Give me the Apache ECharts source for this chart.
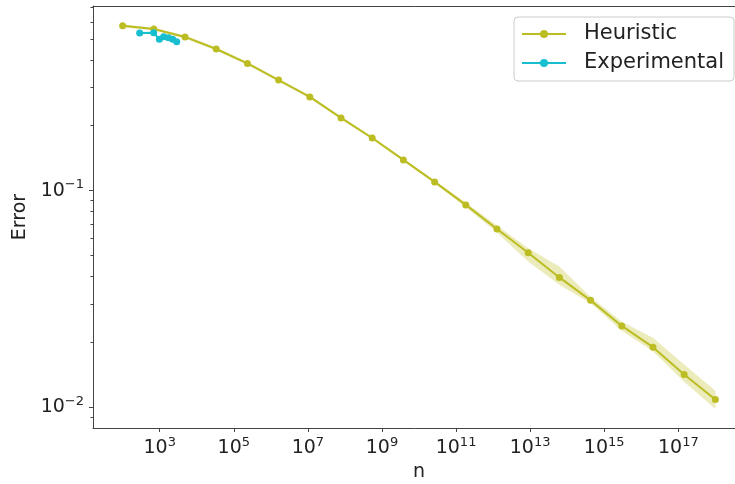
<!DOCTYPE html>
<html>
<head>
<meta charset="utf-8">
<script src="https://cdn.jsdelivr.net/npm/echarts@6/dist/echarts.min.js"></script>
<style>
  html, body { margin: 0; padding: 0; background: #fff; }
  #chart { width: 735px; height: 484px; }
</style>
</head>
<body>
<div id="chart"></div>
<script>
// heuristic curve: n, error and the shaded band
const heurN = [1e2, 695, 4833, 33598, 2.336e5, 1.624e6, 1.129e7, 7.848e7, 5.456e8, 3.793e9,
  2.637e10, 1.833e11, 1.274e12, 8.859e12, 6.158e13, 4.281e14, 2.976e15, 2.069e16, 1.438e17, 1e18]
const heurErr = [0.578, 0.558, 0.513, 0.451, 0.387, 0.324, 0.271, 0.2167, 0.175, 0.1386,
  0.1097, 0.0859, 0.0665, 0.0516, 0.0397, 0.0311, 0.0237, 0.0189, 0.01414, 0.01084]
const heurLow = [0.569, 0.550, 0.505, 0.444, 0.381, 0.319, 0.267, 0.2135, 0.1724, 0.1365,
  0.1080, 0.0838, 0.0640, 0.0470, 0.0367, 0.0302, 0.0225, 0.0181, 0.0131, 0.0098]
const heurHigh = [0.587, 0.566, 0.521, 0.458, 0.393, 0.329, 0.275, 0.2200, 0.1776, 0.1407,
  0.1114, 0.0881, 0.0690, 0.0542, 0.0446, 0.0322, 0.0248, 0.0209, 0.0157, 0.0119]

// experimental points
const expN = [288, 690, 980, 1280, 1720, 2240, 2880]
const expErr = [0.535, 0.536, 0.501, 0.514, 0.509, 0.501, 0.4875]

// tick positions (exponents / mantissas)
const xTickExps = [3, 5, 7, 9, 11, 13, 15, 17]
const yTickExps = [-2, -1]
const yMinorTicks = [0.009, 0.02, 0.03, 0.04, 0.05, 0.06, 0.07, 0.08, 0.09, 0.2, 0.3, 0.4, 0.5, 0.6, 0.7]

const OLIVE = '#bcbd22'
const CYAN = '#17becf'
const AXIS_COLOR = '#444'
const FONT = 'DejaVu Sans'

const lg = Math.log10
const pairs = (xs, ys) => xs.map((x, i) => [lg(x), lg(ys[i])])

const X_MIN = 1.2, X_MAX = 18.8
const Y_MIN = -2.097, Y_MAX = -0.147

const powLabel = v => '{b|10}{s|' + String(v).replace('-', '\u2212') + '}'
const richPow = {
  b: { fontSize: 19, fontFamily: FONT, color: '#222', lineHeight: 24 },
  s: { fontSize: 13, fontFamily: FONT, color: '#222', lineHeight: 13, verticalAlign: 'top' }
}

// band rows: [log n, log low, log high]
const bandData = heurN.map((x, i) => [lg(x), lg(heurLow[i]), lg(heurHigh[i])])

// whole band drawn as one polygon (only on the first item)
function renderBand(params, api) {
  if (params.dataIndex !== 0) return null
  const upper = bandData.map(d => api.coord([d[0], d[2]]))
  const lower = bandData.map(d => api.coord([d[0], d[1]])).reverse()
  return {
    type: 'polygon',
    shape: { points: upper.concat(lower) },
    style: { fill: 'rgba(188,189,34,0.3)', stroke: 'none' }
  }
}

const chart = echarts.init(document.getElementById('chart'), null, { renderer: 'canvas' })

chart.setOption({
  backgroundColor: '#fff',
  animation: false,
  grid: { left: 93, top: 6, right: -10, bottom: 56, outerBoundsMode: 'none' },
  legend: {
    orient: 'vertical',
    left: 514,
    top: 17,
    data: ['Heuristic', 'Experimental'],
    backgroundColor: 'rgba(255,255,255,0.8)',
    borderColor: '#ccc',
    borderWidth: 1,
    borderRadius: 4,
    padding: [5, 10, 6, 7],
    itemWidth: 44,
    itemHeight: 10,
    itemGap: 5,
    textStyle: { fontSize: 21, fontFamily: FONT, color: '#222', lineHeight: 24, padding: [0, 0, 0, 13] }
  },
  xAxis: [{
    type: 'value',
    position: 'bottom',
    min: X_MIN,
    max: X_MAX,
    splitLine: { show: false },
    axisLine: { lineStyle: { color: AXIS_COLOR, width: 1 } },
    axisTick: { customValues: xTickExps, length: 4, lineStyle: { color: AXIS_COLOR } },
    axisLabel: { customValues: xTickExps, formatter: powLabel, rich: richPow, margin: 8 },
    name: 'n',
    nameLocation: 'middle',
    nameGap: 31,
    nameTextStyle: { fontSize: 19, fontFamily: FONT, color: '#222' }
  }, {
    type: 'value',
    position: 'top',
    min: X_MIN,
    max: X_MAX,
    splitLine: { show: false },
    axisLine: { lineStyle: { color: AXIS_COLOR, width: 1 } },
    axisTick: { show: false },
    axisLabel: { show: false }
  }],
  yAxis: [{
    type: 'value',
    position: 'left',
    min: Y_MIN,
    max: Y_MAX,
    splitLine: { show: false },
    axisLine: { show: true, lineStyle: { color: AXIS_COLOR, width: 1 } },
    axisTick: { show: true, customValues: yTickExps, length: 4, lineStyle: { color: AXIS_COLOR } },
    axisLabel: { customValues: yTickExps, formatter: powLabel, rich: richPow, margin: 9 },
    name: 'Error',
    nameLocation: 'middle',
    nameRotate: 90,
    nameGap: 62,
    nameTextStyle: { fontSize: 19, fontFamily: FONT, color: '#222' }
  }, {
    type: 'value',
    position: 'left',
    min: Y_MIN,
    max: Y_MAX,
    splitLine: { show: false },
    axisLine: { show: false },
    axisTick: { show: true, customValues: yMinorTicks.map(lg), length: 2.5, lineStyle: { color: AXIS_COLOR } },
    axisLabel: { show: false }
  }],
  series: [
    {
      name: 'band',
      type: 'custom',
      renderItem: renderBand,
      data: bandData,
      encode: { x: 0, y: 1 },
      silent: true,
      z: 1
    },
    {
      name: 'Heuristic',
      type: 'line',
      data: pairs(heurN, heurErr),
      color: OLIVE,
      symbol: 'circle',
      symbolSize: 7,
      lineStyle: { width: 2, color: OLIVE },
      itemStyle: { color: OLIVE },
      z: 3
    },
    {
      name: 'Experimental',
      type: 'line',
      data: pairs(expN, expErr),
      color: CYAN,
      symbol: 'circle',
      symbolSize: 7,
      lineStyle: { width: 2, color: CYAN },
      itemStyle: { color: CYAN },
      z: 4
    }
  ]
})
</script>
</body>
</html>
